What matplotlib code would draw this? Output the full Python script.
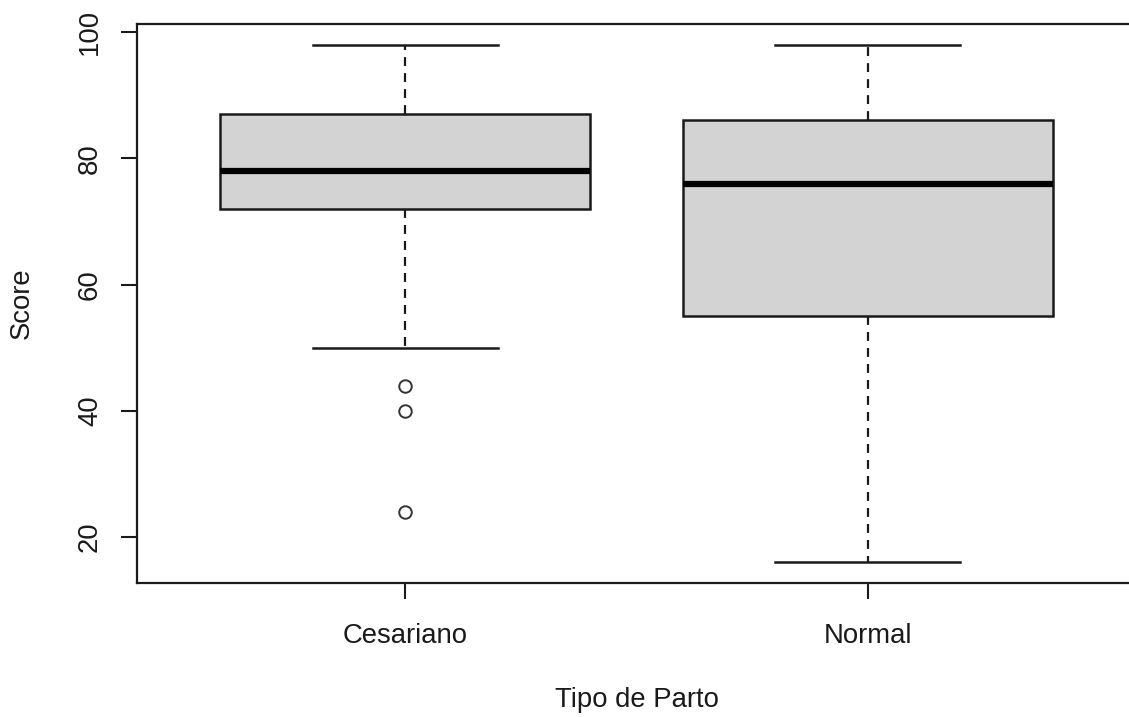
import matplotlib
matplotlib.use("Agg")
import matplotlib.pyplot as plt

categories = ["Cesariano", "Normal"]
whisker_low = [50, 16]
q1 = [72, 55]
median = [78, 76]
q3 = [87, 86]
whisker_high = [98, 98]
outliers = [[44, 40, 24], []]
yticks = [20, 40, 60, 80, 100]

plt.rcParams['font.family'] = ['Liberation Sans', 'DejaVu Sans']

W, H = 1129, 717
fig = plt.figure(figsize=(W / 100, H / 100), dpi=100)
left, right, top, bottom = 137, 1136, 24, 583
ax = fig.add_axes([left / W, (H - bottom) / H, (right - left) / W, (bottom - top) / H])

stats = []
for i, c in enumerate(categories):
    stats.append(dict(label=c, whislo=whisker_low[i], q1=q1[i], med=median[i],
                      q3=q3[i], whishi=whisker_high[i], fliers=outliers[i]))

ax.bxp(stats, positions=[1, 2], widths=0.8, capwidths=0.4, patch_artist=True,
       boxprops=dict(facecolor='#D3D3D3', edgecolor='#1a1a1a', linewidth=1.8),
       medianprops=dict(color='black', linewidth=4.5, solid_capstyle='butt'),
       whiskerprops=dict(color='#1a1a1a', linewidth=1.6, linestyle=(0, (4, 3.2))),
       capprops=dict(color='#1a1a1a', linewidth=1.8),
       flierprops=dict(marker='o', markersize=9, markerfacecolor='none',
                       markeredgecolor='#333333', markeredgewidth=1.4))

ax.set_xlim(0.42, 2.58)
ax.set_ylim(12.72, 101.28)
ax.set_yticks(yticks)
ax.set_yticklabels([str(v) for v in yticks], rotation=90, va='center')
ax.set_xticks([1, 2])
ax.set_xticklabels(categories)

for s in ax.spines.values():
    s.set_linewidth(1.6)
    s.set_color('#1a1a1a')

ax.tick_params(axis='both', direction='out', length=11.5, width=1.5, color='#1a1a1a',
               labelsize=19.8, labelcolor='#1a1a1a')
ax.tick_params(axis='y', pad=13)
ax.tick_params(axis='x', pad=17)

fig.text((left + right) / 2 / W, 1 - 700 / H, "Tipo de Parto", ha='center', va='center',
         fontsize=19.8, color='#1a1a1a')
fig.text(22 / W, 1 - ((top + bottom) / 2) / H, "Score", ha='center', va='center',
         rotation=90, fontsize=19.8, color='#1a1a1a')

fig.savefig("out.png", dpi=100)
